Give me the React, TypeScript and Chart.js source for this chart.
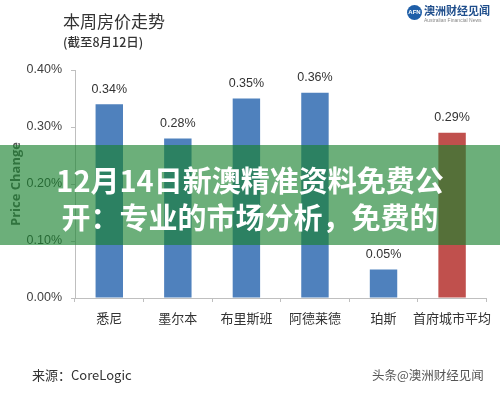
import React, { useEffect, useRef } from "react";
import { Chart, registerables } from "chart.js";

Chart.register(...registerables);

const categories = ["悉尼", "墨尔本", "布里斯班", "阿德莱德", "珀斯", "首府城市平均"];
const values = [0.34, 0.28, 0.35, 0.36, 0.05, 0.29];
const barColors = ["#4f81bd", "#4f81bd", "#4f81bd", "#4f81bd", "#4f81bd", "#c0504d"];
const yTickValues = [0, 0.1, 0.2, 0.3, 0.4];
const titleText = "本周房价走势";
const subtitleText = "(截至8月12日)";
const yAxisTitle = "Price Change";
const sourceText = "来源：CoreLogic";
const watermarkText = "头条@澳洲财经见闻";
const bannerLines = ["12月14日新澳精准资料免费公", "开：专业的市场分析，免费的"];

const FONT = "'Liberation Sans', 'Noto Sans CJK SC', sans-serif";
const CJK = "'Noto Sans CJK SC', 'Liberation Sans', sans-serif";

const labelPlugin = {
  id: "barLabels",
  afterDatasetsDraw(chart: any) {
    const ctx = chart.ctx;
    const meta = chart.getDatasetMeta(0);
    ctx.save();
    ctx.font = `12.5px ${FONT}`;
    ctx.fillStyle = "#333333";
    ctx.textAlign = "center";
    ctx.textBaseline = "middle";
    meta.data.forEach((el: any, i: number) => {
      ctx.fillText(values[i].toFixed(2) + "%", el.x, el.y - 15);
    });
    ctx.restore();
  },
};

export default function App() {
  const ref = useRef<HTMLCanvasElement | null>(null);
  useEffect(() => {
    document.body.style.margin = "0";
    const chart = new Chart(ref.current as HTMLCanvasElement, {
      type: "bar",
      data: {
        labels: categories,
        datasets: [
          {
            data: values,
            backgroundColor: barColors,
            borderWidth: 0,
            barPercentage: 0.4,
            categoryPercentage: 1,
          },
        ],
      },
      options: {
        animation: false,
        responsive: false,
        devicePixelRatio: 1,
        layout: { padding: { top: 70, right: 11, bottom: 0, left: 0 } },
        plugins: { legend: { display: false }, tooltip: { enabled: false } },
        scales: {
          x: {
            afterFit: (s: any) => {
              s.height = 96;
            },
            grid: { drawOnChartArea: false, drawTicks: true, tickLength: 4, color: "#bfbfbf" },
            border: { color: "#bfbfbf" },
            ticks: { color: "#333333", font: { size: 13, family: CJK }, padding: 8, maxRotation: 0, autoSkip: false },
          },
          y: {
            min: 0,
            max: 0.4,
            afterFit: (s: any) => {
              s.width = 75;
            },
            afterBuildTicks: (s: any) => {
              s.ticks = yTickValues.map((v) => ({ value: v }));
            },
            grid: { drawOnChartArea: false, drawTicks: true, tickLength: 4, color: "#bfbfbf" },
            border: { color: "#bfbfbf" },
            ticks: {
              color: "#404040",
              font: { size: 12.5, family: FONT },
              padding: 9,
              callback: (v: any) => Number(v).toFixed(2) + "%",
            },
            title: {
              display: true,
              text: yAxisTitle,
              color: "#595959",
              font: { size: 13, weight: "bold", family: "'Open Sans', sans-serif" },
              padding: { top: 8, bottom: 0 },
            },
          },
        },
      },
      plugins: [labelPlugin],
    } as any);
    return () => chart.destroy();
  }, []);

  return (
    <div style={{ position: "fixed", left: 0, top: 0, width: 500, height: 394, background: "#ffffff", overflow: "hidden" }}>
      <canvas ref={ref} width={500} height={394} style={{ position: "absolute", left: 0, top: 0 }} />
      <div style={{ position: "absolute", left: 63, top: 9, fontFamily: CJK, fontSize: 17, color: "#333", lineHeight: "24px" }}>
        {titleText}
      </div>
      <div style={{ position: "absolute", left: 63, top: 33, fontFamily: CJK, fontSize: 12.5, color: "#333", lineHeight: "18px", fontWeight: 500 }}>
        {subtitleText}
      </div>
      <div style={{ position: "absolute", left: 407, top: 5, width: 15, height: 15, borderRadius: "50%", background: "#1f5fa8", color: "#fff", fontFamily: FONT, fontSize: 6, fontWeight: "bold", lineHeight: "15px", textAlign: "center" }}>
        AFN
      </div>
      <div style={{ position: "absolute", left: 424, top: 4, fontFamily: CJK, fontSize: 11, fontWeight: "bold", color: "#1f4e8c", lineHeight: "13px" }}>
        澳洲财经见闻
      </div>
      <div style={{ position: "absolute", left: 424, top: 17, fontFamily: FONT, fontSize: 5, color: "#888", lineHeight: "7px" }}>
        Australian Financial News
      </div>
      <div style={{ position: "absolute", left: 32, top: 366, fontFamily: CJK, fontSize: 13, color: "#333", lineHeight: "18px" }}>
        {sourceText}
      </div>
      <div style={{ position: "absolute", left: 372, top: 366, fontFamily: CJK, fontSize: 12.5, color: "#555", lineHeight: "18px" }}>
        {watermarkText}
      </div>
      <div style={{ position: "absolute", left: 0, top: 145, width: 500, height: 100, background: "rgba(25,130,47,0.64)" }}>
        <div style={{ position: "absolute", left: 0, top: 16, width: 500, textAlign: "center", fontFamily: CJK, fontSize: 29, fontWeight: "bold", color: "#ffffff", lineHeight: "37px" }}>
          {bannerLines.map((l, i) => (
            <div key={i}>{l}</div>
          ))}
        </div>
      </div>
    </div>
  );
}
